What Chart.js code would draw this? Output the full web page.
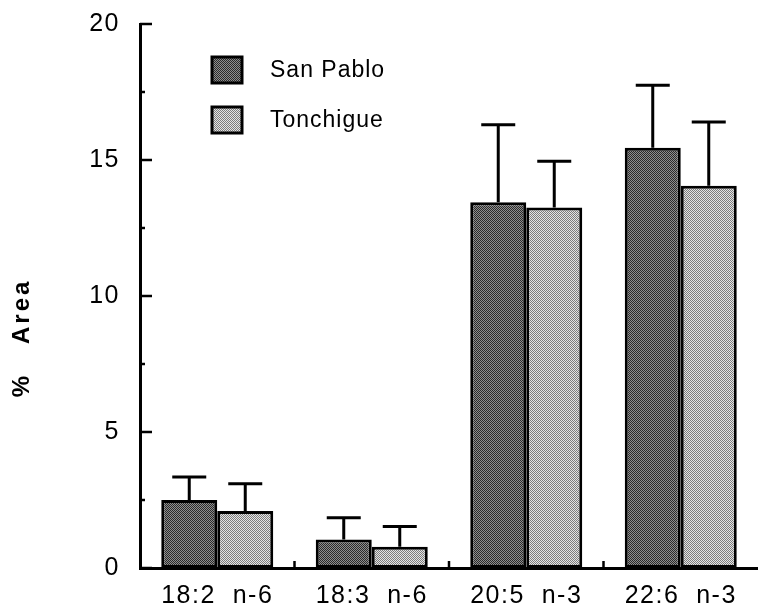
<!DOCTYPE html>
<html>
<head>
<meta charset="utf-8">
<script src="https://cdn.jsdelivr.net/npm/chart.js@4"></script>
<style>
  body { margin: 0; background: #fff; }
  #wrap { width: 758px; height: 608px; position: relative; }
</style>
</head>
<body>
<div id="wrap"><canvas id="myChart"></canvas></div>
<script>
// data
var categories = ['18:2  n-6', '18:3  n-6', '20:5  n-3', '22:6  n-3'];
var sanPablo = [2.5, 1.05, 13.45, 15.45];
var sanPabloErr = [0.85, 0.8, 2.85, 2.3];
var tonchigue = [2.1, 0.78, 13.25, 14.05];
var tonchigueErr = [1.0, 0.75, 1.7, 2.35];
var yTicks = [0, 5, 10, 15, 20];

var ctx = document.getElementById('myChart').getContext('2d');

// little dither so the bars look like the screened print
function dither(light, dark) {
    var c = document.createElement('canvas');
    c.width = 2; c.height = 2;
    var g = c.getContext('2d');
    g.fillStyle = light; g.fillRect(0, 0, 2, 2);
    g.fillStyle = dark; g.fillRect(0, 0, 1, 1); g.fillRect(1, 1, 1, 1);
    return ctx.createPattern(c, 'repeat');
}
var darkFill = dither('#8e8e8e', '#2a2a2a');
var lightFill = dither('#e4e4e4', '#7c7c7c');

var spacing = {
    id: 'spacing',
    beforeDraw: function (chart) { chart.ctx.letterSpacing = '1.5px'; }
};

var errorBars = {
    id: 'errorBars',
    afterDatasetsDraw: function (chart) {
        var c = chart.ctx, y = chart.scales.y;
        c.save();
        c.strokeStyle = '#000';
        c.lineWidth = 3;
        chart.data.datasets.forEach(function (ds, i) {
            chart.getDatasetMeta(i).data.forEach(function (bar, j) {
                var top = y.getPixelForValue(ds.data[j] + ds.errors[j]);
                c.beginPath();
                c.moveTo(bar.x, bar.y);
                c.lineTo(bar.x, top);
                c.moveTo(bar.x - 17, top);
                c.lineTo(bar.x + 17, top);
                c.stroke();
            });
        });
        c.restore();
    }
};

var axisDecor = {
    id: 'axisDecor',
    afterDraw: function (chart) {
        var c = chart.ctx, y = chart.scales.y, x = chart.scales.x, a = chart.chartArea;
        c.save();
        c.strokeStyle = '#000';
        c.lineWidth = 2.5;
        // major ticks inside, minor ticks halfway
        y.ticks.forEach(function (t, i) {
            var py = y.getPixelForValue(t.value);
            c.beginPath(); c.moveTo(a.left, py); c.lineTo(a.left + 12, py); c.stroke();
            if (i < y.ticks.length - 1) {
                var my = y.getPixelForValue((t.value + y.ticks[i + 1].value) / 2);
                c.beginPath(); c.moveTo(a.left, my); c.lineTo(a.left + 5, my); c.stroke();
            }
        });
        // small ticks between groups
        for (var i = 0; i < categories.length - 1; i++) {
            var px = (x.getPixelForTick(i) + x.getPixelForTick(i + 1)) / 2;
            c.beginPath(); c.moveTo(px, a.bottom); c.lineTo(px, a.bottom - 7); c.stroke();
        }
        // y title
        c.translate(22, 338);
        c.rotate(-Math.PI / 2);
        c.letterSpacing = '3px';
        c.font = 'bold 24px "Liberation Sans", Arial, sans-serif';
        c.fillStyle = '#000';
        c.textAlign = 'center';
        c.textBaseline = 'middle';
        c.fillText('%   Area', 0, 0);
        c.restore();

        // legend
        c.save();
        c.letterSpacing = '1px';
        c.font = '23px "Liberation Sans", Arial, sans-serif';
        c.textBaseline = 'middle';
        chart.data.datasets.forEach(function (ds, i) {
            var bx = a.left + 72, by = a.top + 33 + i * 50;
            c.fillStyle = ds.backgroundColor;
            c.fillRect(bx, by, 30, 26);
            c.strokeStyle = '#000';
            c.lineWidth = 3;
            c.strokeRect(bx, by, 30, 26);
            c.fillStyle = '#000';
            c.fillText(ds.label, a.left + 130, by + 14);
        });
        c.restore();
    }
};

var chart = new Chart(ctx, {
    type: 'bar',
    data: {
        labels: categories,
        datasets: [{
            label: 'San Pablo',
            data: sanPablo,
            errors: sanPabloErr,
            backgroundColor: darkFill,
            borderColor: '#000',
            borderWidth: 3,
            borderSkipped: false
        }, {
            label: 'Tonchigue',
            data: tonchigue,
            errors: tonchigueErr,
            backgroundColor: lightFill,
            borderColor: '#000',
            borderWidth: 3,
            borderSkipped: false
        }]
    },
    options: {
        responsive: true,
        maintainAspectRatio: false,
        animation: false,
        barPercentage: 1,
        categoryPercentage: 0.725,
        layout: { padding: { top: 24, right: 0, left: 0, bottom: 0 } },
        plugins: { legend: { display: false }, tooltip: { enabled: false } },
        scales: {
            y: {
                min: 0, max: 20,
                afterFit: function (s) { s.width = 140; s.paddingTop = 0; s.paddingBottom = 0; },
                afterBuildTicks: function (s) { s.ticks = yTicks.map(function (v) { return { value: v }; }); },
                grid: { display: false, drawTicks: false },
                border: { display: true, color: '#000', width: 3 },
                ticks: {
                    color: '#000', padding: 20,
                    font: { family: '"Liberation Sans", Arial, sans-serif', size: 25 }
                }
            },
            x: {
                afterFit: function (s) { s.height = 40; s.paddingLeft = 0; s.paddingRight = 0; },
                grid: { display: false, drawTicks: false },
                border: { display: true, color: '#000', width: 3 },
                ticks: {
                    color: '#000', padding: 13, maxRotation: 0, autoSkip: false,
                    font: { family: '"Liberation Sans", Arial, sans-serif', size: 25 }
                }
            }
        }
    },
    plugins: [spacing, errorBars, axisDecor]
});
</script>
</body>
</html>
